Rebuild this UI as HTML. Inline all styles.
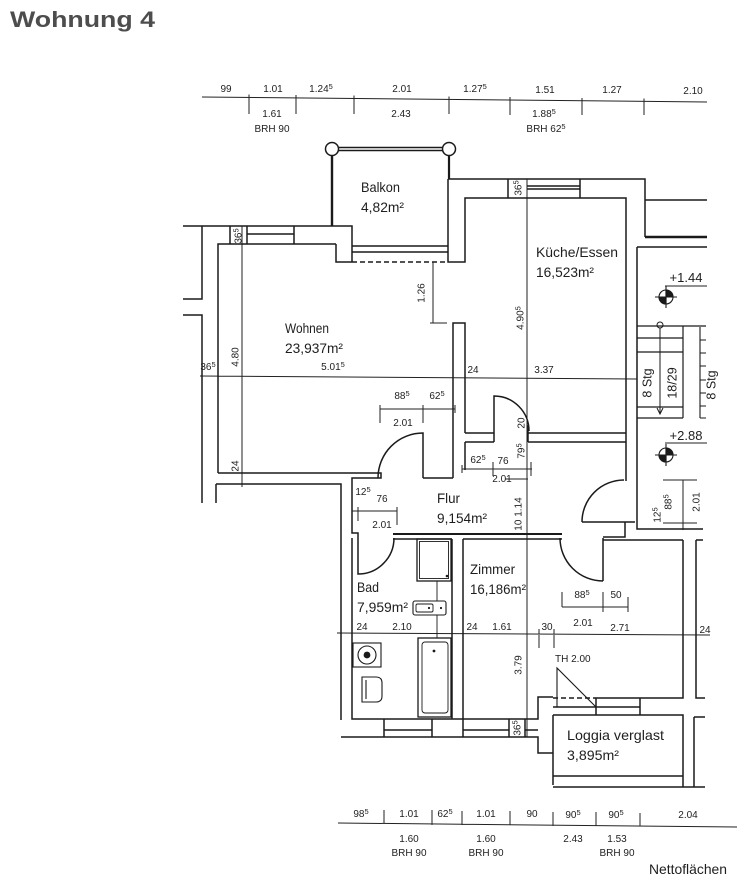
<!DOCTYPE html>
<html><head><meta charset="utf-8"><style>
html,body{margin:0;padding:0;background:#fff;}
svg{display:block;}
text{font-family:"Liberation Sans",Arial,sans-serif;fill:#1e1e1e;}
.s{font-size:10px;}
.r{font-size:14px;}
</style></head><body>
<svg width="751" height="879" viewBox="0 0 751 879" xmlns="http://www.w3.org/2000/svg">
<rect width="751" height="879" fill="#fff"/>
<text x="10" y="27" font-weight="bold" font-size="22" style="fill:#4d4d4d" textLength="145" lengthAdjust="spacingAndGlyphs">Wohnung 4</text>

<!-- dimension lines -->
<g fill="none" stroke="#222" stroke-width="1">
 <path d="M202,97 L707,102"/>
 <path d="M249,94.5 V114 M296,95 V114 M354,95.5 V114 M449,96.5 V114 M510,97 V115 M582,98 V115 M644,98.5 V115"/>
 <path d="M200,376 L637,379 M218,371 V382 M242,371 V382 M453,372 V383 M465,372 V383 M637,374 V384"/>
 <path d="M242,226 V487 M237,244 H247 M237,473 H247"/>
 <path d="M433,262 V323 M430,323 H447"/>
 <path d="M380,409 H455 M380,405 V423 M423,405 V423 M455,405 V413"/>
 <path d="M462,469 H532 M462,465 V473 M493,462 V476 M531,462 V476 M505,479 H528"/>
 <path d="M352,511 H397 M352,507 V515 M358,507 V521 M397,507 V525"/>
 <path d="M527,179 V737"/>
 <path d="M683,480 V530 M663,480 H697 M663,523 H697"/>
 <path d="M562,607 H628 M562,592 V607 M603,592 V612 M628,597 V612"/>
 <path d="M337,633 L710,635 M352,629 V638 M463,629 V638 M539,629 V648 M554,629 V648 M696,630 V639"/>
 <path d="M338,823 L737,827 M384,810 V824 M432,810 V825 M462,811 V825 M510,811 V825 M553,812 V826 M596,812 V826 M640,813 V826"/>
 <path d="M665,286 H707 M665,443 H707"/>
</g>

<!-- walls -->
<g fill="none" stroke="#1a1a1a" stroke-width="1.5">
 <circle cx="332" cy="149" r="6.5"/>
 <circle cx="449" cy="149" r="6.5"/>
 <path d="M338.5,147.5 H442.5 M338.5,150.5 H442.5"/>
 <path d="M332,155.5 V226" stroke-width="2.4"/>
 <path d="M449,155.5 V179" stroke-width="2.2"/>

 <path d="M183,226 H352 V262 M336,244 V262 H352 M218,473 V244 H336"/>
 <path d="M230,226 V244 M247,226 V244 M247,234 H294 M294,226 V244"/>
 <path d="M352,246 H448 M352,252 H448"/>
 <path d="M352,262 H447" stroke-dasharray="5,3"/>
 <path d="M448,179 V262 H465 V198 H626 V481"/>
 <path d="M448,179 H645 V237"/>
 <path d="M508,179 V198 M580,179 V198 M527,186 H580 M527,189 H580"/>
 <path d="M645,200 H707"/>
 <path d="M645,237 H707" stroke-width="2.4"/>
 <path d="M637,247 H707 M637,247 V529 H703"/>
 <path d="M202,226 V299 H183 M183,315 H202 V503"/>
 <path d="M216,484 V503 M216,484 H341 V720"/>
 <path d="M218,473 H381 V478 H352 V533 H358 V538"/>
 <path d="M453,478 V323 H465 V433 M465,442 V470"/>
 <path d="M465,433 H494 M465,442 H494 M528,433 H626 M528,442 H626 M528,425 V442"/>
 <path d="M494,442 V396 A35,35 0 0 1 529,431"/>
 <path d="M423,478 V433 A45,45 0 0 0 378,478"/>
 <path d="M423,478 H453"/>
 <path d="M393,534 H562" stroke-width="1.9"/>
 <path d="M393,539 H452 M463,539 H562"/>
 <path d="M358,538 V574 A36,36 0 0 0 394,538"/>
 <path d="M352,538 V719 H463 M452,539 V719 M463,539 V737 M341,737 H463 M384,719 V737 M432,719 V737 M384,730 H432"/>
 <path d="M463,719 H538 V697 H553 M463,730 H509 M463,737 H538 V753 H553 M553,715 V785 M509,719 V737 M525,719 V737 M525,730 H538"/>
 <path d="M553,698 H596" stroke-dasharray="5,3"/>
 <path d="M596,698 H683 V540 M603,540 H683 M696,540 V698 H705 M696,540 H703"/>
 <path d="M596,698 V715 M640,698 V715 M553,707 H640 M553,715 H683 V787 M694,717 H705 M694,717 V787 M553,776 H683 M553,787 H705"/>
 <path d="M557,707 V668 L596,707" stroke-width="1.1"/>
 <path d="M603,538 V581 M560,538 A43,43 0 0 0 603,581"/>
 <path d="M603,537 H625 V522"/>
 <path d="M582,522 H635 M582,522 A42,42 0 0 1 624,480"/>

 <!-- staircase -->
 <path d="M637,326 H706 M637,338 H683 M637,352 H683 M637,407 H683 M637,418 H683 M683,326 V418" stroke-width="1.2"/>
 <path d="M660,328 V414 M657,408 L660,414 L663,408" stroke-width="1"/>
 <circle cx="660" cy="325" r="3" stroke-width="1"/>
 <path d="M700,327 V418 M700,340 H706 M700,353 H706 M700,366 H706 M700,380 H706 M700,393 H706 M700,406 H706 M700,418 H706" stroke-width="1.1"/>

 <!-- bath fixtures -->
 <rect x="417" y="539" width="34" height="42" stroke-width="1.3"/>
 <rect x="419.5" y="541.5" width="29" height="37" stroke-width="0.9"/>
 <rect x="413" y="601" width="33" height="14" rx="2" stroke-width="1.1"/>
 <rect x="416" y="604" width="17" height="8" rx="1.5" stroke-width="0.9"/>
 <path d="M437,581 V601 M437,615 V638" stroke-width="0.9"/>
 <rect x="418" y="638" width="33" height="79" stroke-width="1.3"/>
 <rect x="422" y="642" width="26" height="71" rx="3" stroke-width="0.9"/>
 <rect x="353" y="643" width="28" height="24" stroke-width="1.1"/>
 <circle cx="367" cy="655" r="9" stroke-width="1.1"/>
 <path d="M362,677 H376 Q382,677 382,683 V696 Q382,702 376,702 H362 Z M366,680 V699" stroke-width="1.1"/>
</g>
<g fill="#1a1a1a">
 <circle cx="447" cy="576" r="1.3"/>
 <circle cx="429" cy="608" r="1.1"/>
 <circle cx="441" cy="608" r="1.1"/>
 <circle cx="434" cy="651" r="1.4"/>
 <circle cx="367" cy="655" r="3.4"/>
</g>

<!-- level markers -->
<g stroke="#1a1a1a" stroke-width="1.1">
 <circle cx="666" cy="297" r="7" fill="#fff"/>
 <path d="M666,297 L673,297 A7,7 0 0 0 666,290 Z M666,297 L659,297 A7,7 0 0 0 666,304 Z" fill="#1a1a1a"/>
 <path d="M655,297 H677 M666,286 V308" fill="none"/>
 <circle cx="666" cy="455" r="7" fill="#fff"/>
 <path d="M666,455 L673,455 A7,7 0 0 0 666,448 Z M666,455 L659,455 A7,7 0 0 0 666,462 Z" fill="#1a1a1a"/>
 <path d="M655,455 H677 M666,444 V466" fill="none"/>
</g>

<!-- top dimension labels -->
<g class="s" text-anchor="middle">
 <text class="s" x="226" y="92">99</text>
 <text class="s" x="273" y="92">1.01</text>
 <text class="s" x="321" y="92">1.24<tspan dy="-3" font-size="7.5">5</tspan></text>
 <text class="s" x="402" y="92">2.01</text>
 <text class="s" x="475" y="92">1.27<tspan dy="-3" font-size="7.5">5</tspan></text>
 <text class="s" x="545" y="93">1.51</text>
 <text class="s" x="612" y="93">1.27</text>
 <text class="s" x="693" y="94">2.10</text>
 <text class="s" x="272" y="117">1.61</text>
 <text class="s" x="401" y="117">2.43</text>
 <text class="s" x="544" y="117">1.88<tspan dy="-3" font-size="7.5">5</tspan></text>
 <text class="s" x="272" y="132">BRH 90</text>
 <text class="s" x="546" y="132">BRH 62<tspan dy="-3" font-size="7.5">5</tspan></text>

 <!-- interior horizontal -->
 <text class="s" x="208" y="370">36<tspan dy="-3" font-size="7.5">5</tspan></text>
 <text class="s" x="333" y="370">5.01<tspan dy="-3" font-size="7.5">5</tspan></text>
 <text class="s" x="473" y="373">24</text>
 <text class="s" x="544" y="373">3.37</text>
 <text class="s" x="402" y="399">88<tspan dy="-3" font-size="7.5">5</tspan></text>
 <text class="s" x="437" y="399">62<tspan dy="-3" font-size="7.5">5</tspan></text>
 <text class="s" x="403" y="426">2.01</text>
 <text class="s" x="478" y="463">62<tspan dy="-3" font-size="7.5">5</tspan></text>
 <text class="s" x="503" y="464">76</text>
 <text class="s" x="502" y="482">2.01</text>
 <text class="s" x="363" y="495">12<tspan dy="-3" font-size="7.5">5</tspan></text>
 <text class="s" x="382" y="502">76</text>
 <text class="s" x="382" y="528">2.01</text>
 <text class="s" x="582" y="598">88<tspan dy="-3" font-size="7.5">5</tspan></text>
 <text class="s" x="616" y="598">50</text>
 <text class="s" x="583" y="626">2.01</text>
 <text class="s" x="620" y="631">2.71</text>
 <text class="s" x="362" y="630">24</text>
 <text class="s" x="402" y="630">2.10</text>
 <text class="s" x="472" y="630">24</text>
 <text class="s" x="502" y="630">1.61</text>
 <text class="s" x="547" y="630">30</text>
 <text class="s" x="705" y="633">24</text>

 <!-- bottom dims -->
 <text class="s" x="361" y="817">98<tspan dy="-3" font-size="7.5">5</tspan></text>
 <text class="s" x="409" y="817">1.01</text>
 <text class="s" x="445" y="817">62<tspan dy="-3" font-size="7.5">5</tspan></text>
 <text class="s" x="486" y="817">1.01</text>
 <text class="s" x="532" y="817">90</text>
 <text class="s" x="573" y="818">90<tspan dy="-3" font-size="7.5">5</tspan></text>
 <text class="s" x="616" y="818">90<tspan dy="-3" font-size="7.5">5</tspan></text>
 <text class="s" x="688" y="818">2.04</text>
 <text class="s" x="409" y="842">1.60</text>
 <text class="s" x="486" y="842">1.60</text>
 <text class="s" x="573" y="842">2.43</text>
 <text class="s" x="617" y="842">1.53</text>
 <text class="s" x="409" y="856">BRH 90</text>
 <text class="s" x="486" y="856">BRH 90</text>
 <text class="s" x="617" y="856">BRH 90</text>
</g>

<!-- rotated labels -->
<g text-anchor="middle">
 <text class="s" transform="translate(238,236) rotate(-90)" y="3.5">36<tspan dy="-3" font-size="7.5">5</tspan></text>
 <text class="s" transform="translate(518,188) rotate(-90)" y="3.5">36<tspan dy="-3" font-size="7.5">5</tspan></text>
 <text class="s" transform="translate(517,728) rotate(-90)" y="3.5">36<tspan dy="-3" font-size="7.5">5</tspan></text>
 <text class="s" transform="translate(235,357) rotate(-90)" y="3.5">4.80</text>
 <text class="s" transform="translate(235,466) rotate(-90)" y="3.5">24</text>
 <text class="s" transform="translate(421,293) rotate(-90)" y="3.5">1.26</text>
 <text class="s" transform="translate(520,318) rotate(-90)" y="3.5">4.90<tspan dy="-3" font-size="7.5">5</tspan></text>
 <text class="s" transform="translate(521,423) rotate(-90)" y="3.5">20</text>
 <text class="s" transform="translate(521,451) rotate(-90)" y="3.5">79<tspan dy="-3" font-size="7.5">5</tspan></text>
 <text class="s" transform="translate(518,514) rotate(-90)" y="3.5">10 1.14</text>
 <text class="s" transform="translate(518,665) rotate(-90)" y="3.5">3.79</text>
 <text class="s" transform="translate(696,502) rotate(-90)" y="3.5">2.01</text>
 <text class="s" transform="translate(668,502) rotate(-90)" y="3.5">88<tspan dy="-3" font-size="7.5">5</tspan></text>
 <text class="s" transform="translate(657,515) rotate(-90)" y="3.5">12<tspan dy="-3" font-size="7.5">5</tspan></text>
 <text transform="translate(647,383) rotate(-90)" y="4.5" font-size="12.5">8 Stg</text>
 <text transform="translate(672,383) rotate(-90)" y="4.5" font-size="12.5">18/29</text>
 <text transform="translate(711,385) rotate(-90)" y="4.5" font-size="12.5">8 Stg</text>
</g>

<text x="555" y="662" class="s">TH 2.00</text>
<text x="686" y="282" font-size="13" text-anchor="middle">+1.44</text>
<text x="686" y="440" font-size="13" text-anchor="middle">+2.88</text>

<!-- room labels -->
<g class="r">
 <text class="r" x="361" y="192" textLength="39" lengthAdjust="spacingAndGlyphs">Balkon</text>
 <text class="r" x="361" y="212" textLength="43" lengthAdjust="spacingAndGlyphs">4,82m²</text>
 <text class="r" x="285" y="333" textLength="44" lengthAdjust="spacingAndGlyphs">Wohnen</text>
 <text class="r" x="285" y="353" textLength="58" lengthAdjust="spacingAndGlyphs">23,937m²</text>
 <text class="r" x="536" y="257" textLength="82" lengthAdjust="spacingAndGlyphs">Küche/Essen</text>
 <text class="r" x="536" y="277" textLength="58" lengthAdjust="spacingAndGlyphs">16,523m²</text>
 <text class="r" x="437" y="503" textLength="23" lengthAdjust="spacingAndGlyphs">Flur</text>
 <text class="r" x="437" y="523" textLength="50" lengthAdjust="spacingAndGlyphs">9,154m²</text>
 <text class="r" x="357" y="592" textLength="22" lengthAdjust="spacingAndGlyphs">Bad</text>
 <text class="r" x="357" y="612" textLength="51" lengthAdjust="spacingAndGlyphs">7,959m²</text>
 <text class="r" x="470" y="574" textLength="45" lengthAdjust="spacingAndGlyphs">Zimmer</text>
 <text class="r" x="470" y="594" textLength="56" lengthAdjust="spacingAndGlyphs">16,186m²</text>
 <text class="r" x="567" y="740" textLength="97" lengthAdjust="spacingAndGlyphs">Loggia verglast</text>
 <text class="r" x="567" y="760" textLength="52" lengthAdjust="spacingAndGlyphs">3,895m²</text>
 <text class="r" x="649" y="874" font-size="13" textLength="78" lengthAdjust="spacingAndGlyphs">Nettoflächen</text>
</g>
</svg>
</body></html>
